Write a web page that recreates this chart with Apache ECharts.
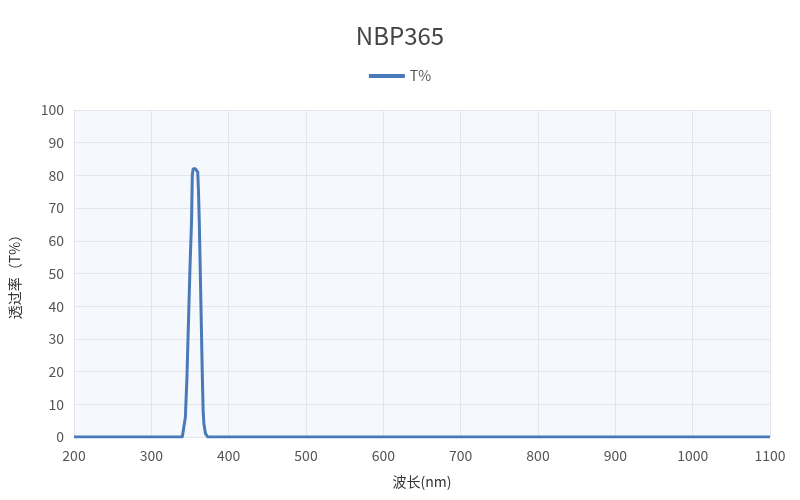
<!DOCTYPE html>
<html>
<head>
<meta charset="utf-8">
<script src="https://cdn.jsdelivr.net/npm/echarts@6/dist/echarts.min.js"></script>
<style>html,body{margin:0;padding:0;background:#fff}#c{width:800px;height:500px}</style>
</head>
<body>
<div id="c"></div>
<script>
const titleText = 'NBP365';
const seriesName = 'T%';
const xAxisName = '波长(nm)';
const yAxisName = '透过率（T%）';
const wavelengths = [200, 300, 340, 342, 344, 346, 348, 350, 352, 353, 354, 357, 360, 361, 362, 364, 366, 367, 368, 370, 373, 380, 500, 800, 1100];
const transmission = [0, 0, 0, 0.5, 6, 18, 35, 52, 66, 80, 82, 82, 81, 75, 66, 42, 18, 8, 4, 1, 0, 0, 0, 0, 0];

const data = wavelengths.map((w, i) => [w, transmission[i]]);
const font = '"Noto Sans CJK SC", "Microsoft YaHei", sans-serif';
const chart = echarts.init(document.getElementById('c'));
chart.setOption({
  animation: false,
  title: { text: titleText, left: 'center', top: 19, textStyle: { fontFamily: font, fontSize: 24, fontWeight: 'normal', color: '#444' } },
  legend: {
    top: 64, left: 'center', itemWidth: 36, itemHeight: 4, itemGap: 10,
    data: [{ name: seriesName, icon: 'rect' }],
    textStyle: { fontFamily: font, fontSize: 14, color: '#555' }
  },
  grid: { left: 74, right: 30, top: 110, bottom: 63, show: true, backgroundColor: '#f5f9fd', borderWidth: 0, outerBoundsMode: 'none', containLabel: false },
  xAxis: {
    type: 'value', min: 200, max: 1100, interval: 100,
    name: xAxisName, nameLocation: 'middle', nameGap: 38,
    nameTextStyle: { fontFamily: font, fontSize: 14, color: '#333' },
    axisLine: { show: false }, axisTick: { show: false },
    axisLabel: { fontFamily: font, fontSize: 14, color: '#555', margin: 12, formatter: v => String(v) },
    splitLine: { show: true, lineStyle: { color: '#e2e6ea' } }
  },
  yAxis: {
    type: 'value', min: 0, max: 100, interval: 10,
    name: yAxisName, nameLocation: 'middle', nameGap: 52, nameRotate: 90,
    nameTextStyle: { fontFamily: font, fontSize: 14, color: '#333' },
    axisLine: { show: false }, axisTick: { show: false },
    axisLabel: { fontFamily: font, fontSize: 14, color: '#555', margin: 10 },
    splitLine: { show: true, lineStyle: { color: '#e2e6ea' } }
  },
  series: [{
    name: seriesName, type: 'line', data: data, symbol: 'none', smooth: false,
    lineStyle: { color: '#4a79b8', width: 3 }, itemStyle: { color: '#4a79b8' }
  }]
});
</script>
</body>
</html>
